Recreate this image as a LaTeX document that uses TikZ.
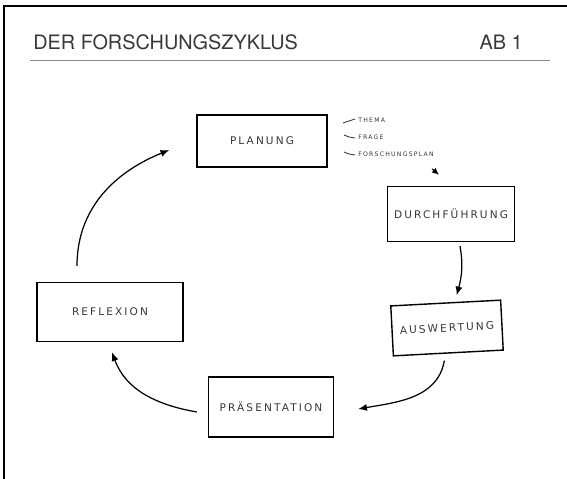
\documentclass[tikz,border=0pt]{standalone}
\usepackage{fontspec}
\setmainfont{TeX Gyre Heros}
\newfontfamily\handfont{DejaVu Sans}[LetterSpace=20]
\usetikzlibrary{arrows.meta}
\usetikzlibrary{calc}
\definecolor{inkgray}{rgb}{0.22,0.22,0.22}
\definecolor{rulegray}{rgb}{0.55,0.55,0.55}
\tikzset{
  stagebox/.style={draw,line width=0.8pt,inner sep=0pt,text=inkgray,
    font=\handfont\fontsize{6}{7}\selectfont},
  subitem/.style={anchor=west,inner sep=0pt,text=inkgray,
    font=\handfont\fontsize{3.5}{4}\selectfont},
  cyclearrow/.style={-{Latex[length=5pt,width=4pt]},line width=0.7pt}
}

\begin{document}
\begin{tikzpicture}[x=0.02cm,y=-0.02cm]
\useasboundingbox (0,0) rectangle (567,479);

%% frame and heading
\draw [line width=0.9pt] (4,479) -- (4,6) -- (567,6);
\node (title) [anchor=base west,inner sep=0pt,text=inkgray,font=\fontsize{11.3}{13}\selectfont] at (33,50) {DER FORSCHUNGSZYKLUS};
\node (sheet) [anchor=base east,inner sep=0pt,text=inkgray,font=\fontsize{11.3}{13}\selectfont] at (523,50) {AB 1};
\draw [rulegray,line width=0.5pt] (30,60) -- (550,60);

%% stages
\node (plan)  [stagebox,minimum width=2.6cm,minimum height=1.04cm]  at (262,141) {PLANUNG};
\node (durch) [stagebox,minimum width=2.54cm,minimum height=1.1cm]  at (451,214) {DURCHFÜHRUNG};
\node (ausw)  [stagebox,minimum width=2.2cm,minimum height=1.0cm,rotate=3] at (447,328) {AUSWERTUNG};
\node (praes) [stagebox,minimum width=2.5cm,minimum height=1.2cm]   at (271,407) {PRÄSENTATION};
\node (refl)  [stagebox,minimum width=2.92cm,minimum height=1.18cm] at (110,312) {REFLEXION};

%% notes beside the planning box
\node (thema) [subitem] at (358,120) {THEMA};
\node (frage) [subitem] at (358,137) {FRAGE};
\node (fplan) [subitem] at (358,154) {FORSCHUNGSPLAN};
\draw [inkgray,line width=0.5pt] ($(thema.west)+(-15,3)$) -- ($(thema.west)+(-3,-1)$);
\draw [inkgray,line width=0.5pt] ($(frage.west)+(-14,-2)$) -- ($(frage.west)+(-9,0)$) -- ($(frage.west)+(-3,1)$);
\draw [inkgray,line width=0.5pt] ($(fplan.west)+(-14,-2)$) -- ($(fplan.west)+(-9,0)$) -- ($(fplan.west)+(-3,1)$);
\draw [-{Latex[length=4pt,width=3.5pt]},line width=0.6pt] ($(durch.north)+(-19,-17)$) -- ($(durch.north)+(-12,-11)$);

%% cycle arrows
\draw [cyclearrow] ($(durch.south)+(9,4)$)  to [out=-80,in=75]  ($(ausw.north)+(11,-7)$);
\draw [cyclearrow] ($(ausw.south)+(-4,7)$)  to [out=-100,in=10] ($(praes.east)+(24,2)$);
\draw [cyclearrow] ($(praes.west)+(-11,5)$) to [out=170,in=-70] ($(refl.south)+(2,10)$);
\draw [cyclearrow] ($(refl.north)+(-33,-16)$) to [out=90,in=202] ($(plan.west)+(-27,9)$);

\end{tikzpicture}
\end{document}
